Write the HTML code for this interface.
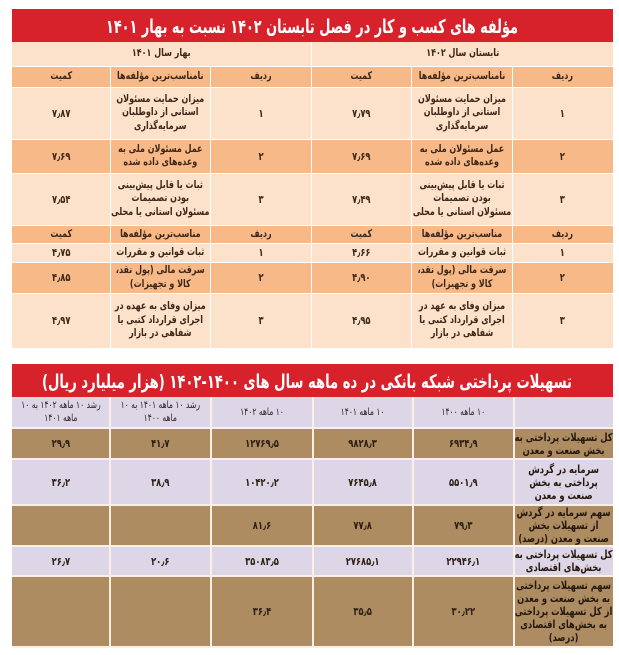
<!DOCTYPE html>
<html lang="fa">
<head>
<meta charset="utf-8">
<style>
  html,body{margin:0;padding:0;background:#fff;}
  body{width:619px;height:655px;position:relative;overflow:hidden;
       font-family:"DejaVu Sans","Liberation Sans",sans-serif;}
  .blk{position:absolute;left:12px;width:601px;}
  .title{height:33px;background:#d7222c;position:relative;}
  .title svg{position:absolute;left:0;top:0;}
  table{border-collapse:collapse;table-layout:fixed;width:601px;direction:rtl;}
  td{padding:0;text-align:center;vertical-align:middle;font-weight:bold;
     font-size:11px;line-height:13px;white-space:nowrap;}
  td > div{width:140%;margin:0 -20%;transform:scaleX(.76);transform-origin:50% 50%;text-align:center;}
  #t1 td{border:1px solid #fff;color:#3b2618;}
  #t1 tr:first-child td{border-top:none;}
  #t1 td:first-child{border-right:none;}
  #t1 td:last-child{border-left:none;}
  #t1 td.tx{font-size:10.5px;line-height:13.5px;}
  #t1 td.h{font-size:10.5px;}
  .lt{background:#fde2cb;}
  .or{background:#f8b988;}
  #t2 td{border:2px solid #fcefe6;color:#2b1d12;}
  #t2 tr:first-child td{border-top:none;}
  #t2 td:first-child{border-right:none;}
  #t2 td:last-child{border-left:none;}
  .lv{background:#ddd6e7;}
  .tn{background:#ad8c61;}
  #t2 td.lab{font-size:11px;line-height:13px;color:#24170c;}
  #t2 td.hd{font-weight:normal;font-size:10px;line-height:13px;color:#2d2320;}
</style>
</head>
<body>

<div class="blk" style="top:9px;">
  <div class="title">
    <svg width="601" height="33" viewBox="0 0 601 33">
      <text x="300" y="24" direction="rtl" text-anchor="middle" fill="#fff"
            font-family="DejaVu Sans, sans-serif" font-weight="bold" font-size="19"
            textLength="412" lengthAdjust="spacingAndGlyphs">مؤلفه های کسب و کار در فصل تابستان ۱۴۰۲ نسبت به بهار ۱۴۰۱</text>
    </svg>
  </div>
  <table id="t1">
    <colgroup>
      <col style="width:101px"><col style="width:101px"><col style="width:100px">
      <col style="width:101px"><col style="width:100px"><col style="width:98px">
    </colgroup>
    <tr class="lt" style="height:24px"><td colspan="3" class="h"><div style="width:100%;margin:0">تابستان سال ۱۴۰۲</div></td><td colspan="3" class="h"><div style="width:100%;margin:0">بهار سال ۱۴۰۱</div></td></tr>
    <tr class="or" style="height:21px"><td class="h"><div>ردیف</div></td><td class="h"><div>نامناسب‌ترین مؤلفه‌ها</div></td><td class="h"><div>کمیت</div></td><td class="h"><div>ردیف</div></td><td class="h"><div>نامناسب‌ترین مؤلفه‌ها</div></td><td class="h"><div>کمیت</div></td></tr>
    <tr class="lt" style="height:52px"><td><div>۱</div></td><td class="tx"><div>میزان حمایت مسئولان<br>استانی از داوطلبان<br>سرمایه‌گذاری</div></td><td><div>۷٫۷۹</div></td><td><div>۱</div></td><td class="tx"><div>میزان حمایت مسئولان<br>استانی از داوطلبان<br>سرمایه‌گذاری</div></td><td><div>۷٫۸۷</div></td></tr>
    <tr class="or" style="height:34px"><td><div>۲</div></td><td class="tx"><div>عمل مسئولان ملی به<br>وعده‌های داده شده</div></td><td><div>۷٫۶۹</div></td><td><div>۲</div></td><td class="tx"><div>عمل مسئولان ملی به<br>وعده‌های داده شده</div></td><td><div>۷٫۶۹</div></td></tr>
    <tr class="lt" style="height:52px"><td><div>۳</div></td><td class="tx"><div>ثبات یا قابل پیش‌بینی<br>بودن تصمیمات<br>مسئولان استانی یا محلی</div></td><td><div>۷٫۴۹</div></td><td><div>۳</div></td><td class="tx"><div>ثبات یا قابل پیش‌بینی<br>بودن تصمیمات<br>مسئولان استانی یا محلی</div></td><td><div>۷٫۵۴</div></td></tr>
    <tr class="or" style="height:18px"><td class="h"><div>ردیف</div></td><td class="h"><div>مناسب‌ترین مؤلفه‌ها</div></td><td class="h"><div>کمیت</div></td><td class="h"><div>ردیف</div></td><td class="h"><div>مناسب‌ترین مؤلفه‌ها</div></td><td class="h"><div>کمیت</div></td></tr>
    <tr class="lt" style="height:19px"><td><div>۱</div></td><td class="tx"><div>ثبات قوانین و مقررات</div></td><td><div>۴٫۶۶</div></td><td><div>۱</div></td><td class="tx"><div>ثبات قوانین و مقررات</div></td><td><div>۴٫۷۵</div></td></tr>
    <tr class="or" style="height:31px"><td><div>۲</div></td><td class="tx"><div>سرقت مالی (پول نقد،<br>کالا و تجهیزات)</div></td><td><div>۴٫۹۰</div></td><td><div>۲</div></td><td class="tx"><div>سرقت مالی (پول نقد،<br>کالا و تجهیزات)</div></td><td><div>۴٫۸۵</div></td></tr>
    <tr class="lt" style="height:55px"><td><div>۳</div></td><td class="tx"><div>میزان وفای به عهد در<br>اجرای قرارداد کتبی یا<br>شفاهی در بازار</div></td><td><div>۴٫۹۵</div></td><td><div>۳</div></td><td class="tx"><div>میزان وفای به عهده در<br>اجرای قرارداد کتبی یا<br>شفاهی در بازار</div></td><td><div>۴٫۹۷</div></td></tr>
  </table>
</div>

<div class="blk" style="top:364px;">
  <div class="title">
    <svg width="601" height="33" viewBox="0 0 601 33">
      <text x="295" y="24" direction="rtl" text-anchor="middle" fill="#fff"
            font-family="DejaVu Sans, sans-serif" font-weight="bold" font-size="19"
            textLength="530" lengthAdjust="spacingAndGlyphs">تسهیلات پرداختی شبکه بانکی در ده ماهه سال های ۱۴۰۰-۱۴۰۲ (هزار میلیارد ریال)</text>
    </svg>
  </div>
  <table id="t2">
    <colgroup>
      <col style="width:99px"><col style="width:101px"><col style="width:100px">
      <col style="width:102px"><col style="width:101px"><col style="width:98px">
    </colgroup>
    <tr class="lv" style="height:31px"><td class="hd"></td><td class="hd"><div>۱۰ ماهه ۱۴۰۰</div></td><td class="hd"><div>۱۰ ماهه ۱۴۰۱</div></td><td class="hd"><div>۱۰ ماهه ۱۴۰۲</div></td><td class="hd"><div>رشد ۱۰ ماهه ۱۴۰۱ به ۱۰<br>ماهه ۱۴۰۰</div></td><td class="hd"><div>رشد ۱۰ ماهه ۱۴۰۲ به ۱۰<br>ماهه ۱۴۰۱</div></td></tr>
    <tr class="tn" style="height:31px"><td class="lab"><div>کل تسهیلات پرداختی به<br>بخش صنعت و معدن</div></td><td><div>۶۹۳۴٫۹</div></td><td><div>۹۸۲۸٫۳</div></td><td><div>۱۲۷۶۹٫۵</div></td><td><div>۴۱٫۷</div></td><td><div>۲۹٫۹</div></td></tr>
    <tr class="lv" style="height:46px"><td class="lab"><div>سرمایه در گردش<br>پرداختی به بخش<br>صنعت و معدن</div></td><td><div>۵۵۰۱٫۹</div></td><td><div>۷۶۴۵٫۸</div></td><td><div>۱۰۴۲۰٫۲</div></td><td><div>۳۸٫۹</div></td><td><div>۳۶٫۲</div></td></tr>
    <tr class="tn" style="height:39px"><td class="lab"><div>سهم سرمایه در گردش<br>از تسهیلات بخش<br>صنعت و معدن (درصد)</div></td><td><div>۷۹٫۳</div></td><td><div>۷۷٫۸</div></td><td><div>۸۱٫۶</div></td><td></td><td></td></tr>
    <tr class="lv" style="height:30px"><td class="lab"><div>کل تسهیلات پرداختی به<br>بخش‌های اقتصادی</div></td><td><div>۲۲۹۴۶٫۱</div></td><td><div>۲۷۶۸۵٫۱</div></td><td><div>۳۵۰۸۳٫۵</div></td><td><div>۲۰٫۶</div></td><td><div>۲۶٫۷</div></td></tr>
    <tr class="tn" style="height:71px"><td class="lab"><div>سهم تسهیلات پرداختی<br>به بخش صنعت و معدن<br>از کل تسهیلات پرداختی<br>به بخش‌های اقتصادی<br>(درصد)</div></td><td><div>۳۰٫۲۲</div></td><td><div>۳۵٫۵</div></td><td><div>۳۶٫۴</div></td><td></td><td></td></tr>
  </table>
</div>

</body>
</html>
